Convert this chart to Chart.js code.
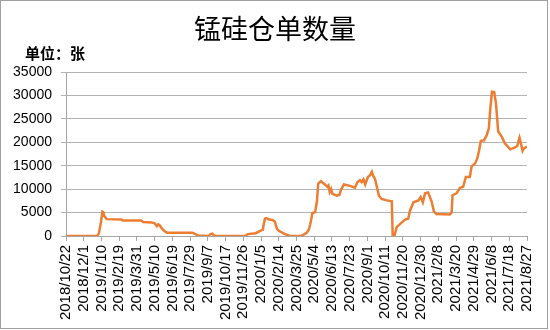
<!DOCTYPE html>
<html>
<head>
<meta charset="utf-8">
<script src="https://cdn.jsdelivr.net/npm/chart.js@4"></script>
<style>
  html, body { margin: 0; padding: 0; background: #fff; }
  #wrap { position: relative; width: 550px; height: 330px; }
</style>
</head>
<body>
<div id="wrap"><canvas id="myChart" width="550" height="330"></canvas></div>
<script>
// days counted from 2018/10/22, values in 张
const days = [0, 70, 74, 79, 82, 84, 86, 92, 125, 128, 170, 174, 193, 200, 205, 208, 212, 217, 224, 228,
  285, 292, 298, 322, 326, 330, 334, 338, 405, 410, 428, 438, 444, 446, 449, 452, 458, 466, 471, 476,
  480, 494, 505, 530, 538, 543, 548, 551, 556, 562, 566, 569, 575, 584, 589, 592, 595, 598, 601, 611,
  617, 620, 627, 641, 652, 657, 663, 667, 671, 675, 681, 686, 690, 693, 697, 706, 712, 724, 735, 737,
  741, 746, 754, 765, 772, 776, 784, 795, 800, 805, 810, 817, 825, 830, 836, 866, 870, 872, 881, 889,
  896, 902, 911, 915, 923, 928, 932, 936, 943, 949, 954, 957, 961, 966, 970, 975, 983, 990, 1002, 1013,
  1018, 1023, 1026, 1030, 1033, 1040];
const values = [0, 0, 500, 3000, 5200, 5100, 4300, 3600, 3500, 3300, 3300, 3000, 2900, 2700, 2100, 2500, 2200, 1500, 900, 700,
  700, 400, 100, 0, 400, 500, 100, 0, 0, 400, 600, 1100, 1300, 2500, 3700, 3800, 3500, 3400, 3100, 1500,
  1100, 400, 0, 0, 400, 700, 1400, 2500, 4900, 5100, 7300, 11200, 11700, 11000, 10500, 10800, 9400, 10000, 9000, 8600,
  8800, 9800, 11000, 10700, 10300, 11400, 11900, 11500, 12100, 11000, 12600, 13000, 13700, 12800, 12200, 8600, 7900, 7600, 7400, 0,
  100, 1900, 2600, 3500, 3700, 5400, 7200, 7600, 8300, 7200, 9100, 9300, 7300, 5200, 4700, 4600, 5000, 8700, 9100, 10300,
  10500, 12600, 12600, 14800, 15500, 16600, 18300, 20300, 20400, 21500, 23000, 26900, 30800, 30700, 28300, 22300, 21200, 19800, 18500, 18900,
  19200, 21000, 19900, 18200, 18700, 19100];
const tickLabels = ['2018/10/22', '2018/12/1', '2019/1/10', '2019/2/19', '2019/3/31', '2019/5/10', '2019/6/19',
  '2019/7/29', '2019/9/7', '2019/10/17', '2019/11/26', '2020/1/5', '2020/2/14', '2020/3/25', '2020/5/4',
  '2020/6/13', '2020/7/23', '2020/9/1', '2020/10/11', '2020/11/20', '2020/12/30', '2021/2/8', '2021/3/20',
  '2021/4/29', '2021/6/8', '2021/7/18', '2021/8/27'];
const chartTitle = '锰硅仓单数量';
const unitText = '单位：张';

const points = days.map(function (d, i) {
  return { x: d, y: values[i] };
});

// title, unit and frame drawn by hand
const decor = {
  id: 'decor',
  beforeDraw: function (chart) {
    const c = chart.ctx;
    c.save();
    c.fillStyle = '#fff';
    c.fillRect(0, 0, chart.width, chart.height);
    c.strokeStyle = '#a0a0a0';
    c.lineWidth = 1;
    c.strokeRect(0.5, 0.5, 547, 328);
    c.fillStyle = '#000';
    c.textAlign = 'center';
    c.textBaseline = 'middle';
    c.font = '27px "Noto Sans CJK SC"';
    c.fillText(chartTitle, 275, 29);
    c.textAlign = 'left';
    c.font = '600 15px "Noto Sans CJK SC"';
    c.fillText(unitText, 25, 53);
    c.restore();
  }
};

var ctx = document.getElementById('myChart').getContext('2d');
var chart = new Chart(ctx, {
  type: 'line',
  data: {
    datasets: [{
      data: points,
      borderColor: '#ED7D31',
      borderWidth: 2.5,
      pointRadius: 0,
      tension: 0,
      fill: false
    }]
  },
  options: {
    responsive: false,
    animation: false,
    layout: { padding: { left: 0, right: 23, top: 72, bottom: 0 } },
    plugins: {
      legend: { display: false },
      tooltip: { enabled: false }
    },
    scales: {
      x: {
        type: 'linear',
        min: 0,
        max: 1040,
        afterFit: function (scale) { scale.height = 94; },
        ticks: {
          stepSize: 40,
          autoSkip: false,
          minRotation: 90,
          maxRotation: 90,
          padding: 4,
          color: '#000',
          font: { family: '"Liberation Sans", Arial', size: 15 },
          callback: function (v) { return tickLabels[Math.round(v / 40)]; }
        },
        grid: {
          drawOnChartArea: false,
          drawTicks: true,
          tickLength: 5,
          color: '#a6a6a6'
        },
        border: { color: '#a6a6a6', width: 1 }
      },
      y: {
        min: 0,
        max: 35000,
        afterFit: function (scale) { scale.width = 66; },
        ticks: {
          stepSize: 5000,
          padding: 9,
          color: '#000',
          font: { family: '"Liberation Sans", Arial', size: 14 },
          callback: function (v) { return String(v); }
        },
        grid: {
          color: '#b3b3b3',
          tickLength: 5
        },
        border: { color: '#a6a6a6', width: 1 }
      }
    }
  },
  plugins: [decor]
});
</script>
</body>
</html>
